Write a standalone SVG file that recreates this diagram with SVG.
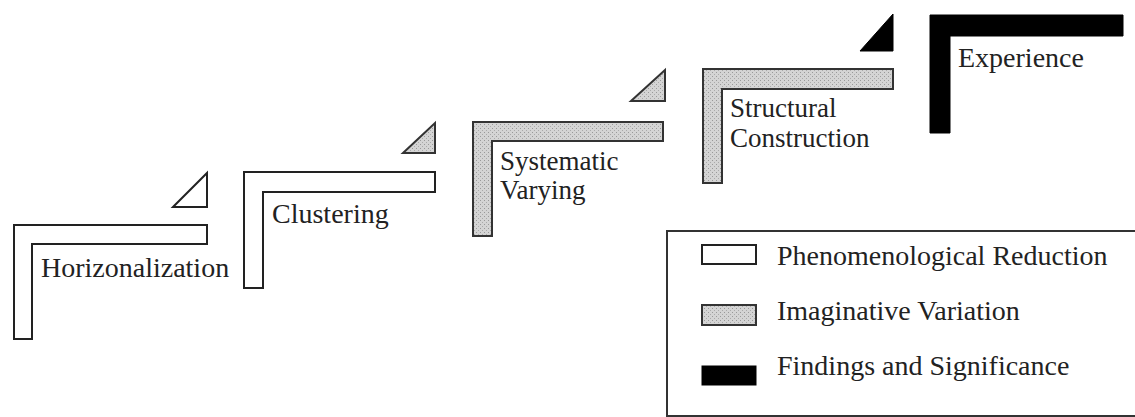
<svg xmlns="http://www.w3.org/2000/svg" width="1135" height="417" viewBox="0 0 1135 417">
<defs>
<pattern id="stip" width="4" height="4" patternUnits="userSpaceOnUse">
<rect width="4" height="4" fill="#d4d4d4"/>
<rect x="0" y="0" width="1" height="1" fill="#999"/>
<rect x="2" y="2" width="1" height="1" fill="#aaa"/>
</pattern>
</defs>
<style>
.w{fill:#fff;stroke:#222;stroke-width:2}
.g{fill:url(#stip);stroke:#333;stroke-width:2}
.b{fill:#000;stroke:#000;stroke-width:1}
.t{font-family:'Liberation Serif','DejaVu Serif',serif;font-size:28px;fill:#222}
.s{font-size:27px}
</style>
<rect width="1135" height="417" fill="#fff"/>
<g id="horizonalization">
<path class="w" d="M14,225H207V244H32V339H14Z"/>
<path class="w" d="M173,207L207,173V207Z"/>
<text class="t" x="41" y="277">Horizonalization</text>
</g>
<g id="clustering">
<path class="w" d="M244,172H435V192H263V288H244Z"/>
<path class="g" d="M403,153L435,123V153Z"/>
<text class="t" x="272" y="223">Clustering</text>
</g>
<g id="systematic-varying">
<path class="g" d="M473,122H663V141H492V236H473Z"/>
<path class="g" d="M631,101L665,70V101Z"/>
<text class="t s" x="500" y="170">Systematic</text>
<text class="t s" x="500" y="199">Varying</text>
</g>
<g id="structural-construction">
<path class="g" d="M703,69H893V89H722V183H703Z"/>
<path class="b" d="M860,51L893,14V51Z"/>
<text class="t s" x="730" y="117">Structural</text>
<text class="t s" x="730" y="147">Construction</text>
</g>
<g id="experience">
<path class="b" d="M930,15H1123V36H950V133H930Z"/>
<text class="t" x="958" y="67">Experience</text>
</g>
<g id="legend">
<rect x="667" y="231" width="480" height="185" fill="#fff" stroke="#333" stroke-width="2"/>
<rect class="w" x="702" y="245" width="54" height="19"/>
<rect class="g" x="702" y="305" width="54" height="20"/>
<rect class="b" x="702" y="366" width="54" height="19"/>
<text class="t" x="777" y="265">Phenomenological Reduction</text>
<text class="t" x="777" y="320">Imaginative Variation</text>
<text class="t" x="777" y="375">Findings and Significance</text>
</g>
<g id="connectors"/>
</svg>
